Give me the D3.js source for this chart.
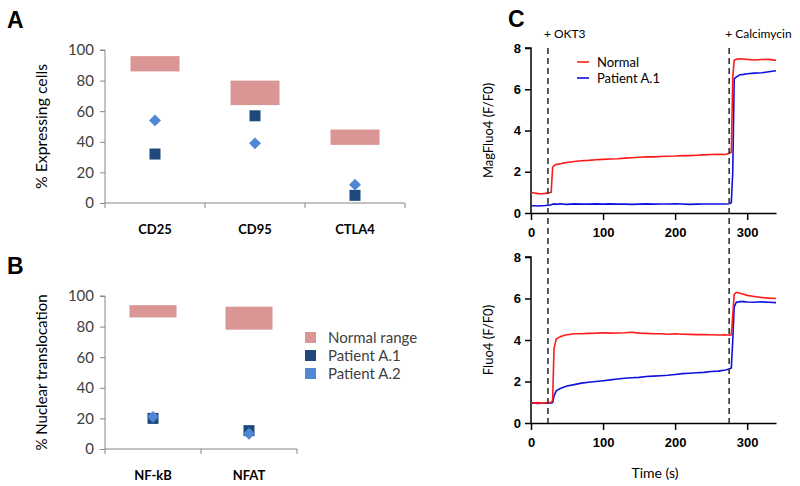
<!DOCTYPE html>
<html><head><meta charset="utf-8">
<script src="https://cdn.jsdelivr.net/npm/d3@7"></script>
<style>body{margin:0;background:#fff}svg{display:block}</style>
</head><body>
<svg id="c" width="800" height="486"></svg>
<script>
// ---------- Panel A data ----------
const catsA = ["CD25", "CD95", "CTLA4"];
const normalLowA = [86, 64, 38];
const normalHighA = [96, 80, 48];
const patientA1_A = [32, 57, 5];
const patientA2_A = [54, 39, 12];
// ---------- Panel B data ----------
const catsB = ["NF-kB", "NFAT"];
const normalLowB = [86, 78];
const normalHighB = [94, 93];
const patientA1_B = [20, 12];
const patientA2_B = [21, 10];
const yTicksAB = [0, 20, 40, 60, 80, 100];
const legendLabels = ["Normal range", "Patient A.1", "Patient A.2"];
// ---------- Panel C data ----------
const time = [0,5,10,15,20,25,28,30,32,35,40,45,50,60,70,80,90,100,110,120,130,140,150,160,170,180,190,200,210,220,230,240,250,260,270,275,278,280,282,285,290,295,300,310,320,330,340];
const magNormal = [1.0,0.97,0.94,0.93,0.95,0.98,1.0,2.2,2.3,2.35,2.38,2.42,2.45,2.5,2.53,2.55,2.58,2.6,2.62,2.63,2.66,2.68,2.7,2.72,2.72,2.74,2.75,2.76,2.78,2.78,2.8,2.82,2.84,2.85,2.84,2.9,2.95,6.6,7.4,7.45,7.48,7.47,7.45,7.42,7.44,7.45,7.4];
const magPatient = [0.35,0.35,0.34,0.35,0.36,0.38,0.4,0.42,0.44,0.42,0.45,0.43,0.42,0.44,0.43,0.43,0.44,0.43,0.44,0.43,0.43,0.42,0.43,0.44,0.43,0.44,0.44,0.45,0.44,0.42,0.43,0.44,0.44,0.44,0.44,0.45,0.5,2.0,6.5,6.6,6.7,6.72,6.75,6.78,6.8,6.85,6.9];
const fluoNormal = [0.98,0.97,0.98,0.96,0.97,0.98,0.98,1.1,3.6,4.05,4.15,4.22,4.25,4.3,4.3,4.32,4.33,4.35,4.33,4.34,4.35,4.37,4.33,4.32,4.3,4.3,4.28,4.3,4.28,4.27,4.26,4.26,4.25,4.24,4.25,4.23,4.25,5.2,6.2,6.3,6.25,6.2,6.15,6.1,6.05,6.02,6.0];
const fluoPatient = [0.95,0.95,0.94,0.95,0.96,0.95,0.96,0.98,1.3,1.55,1.65,1.72,1.78,1.85,1.92,1.96,2.0,2.04,2.08,2.12,2.16,2.18,2.2,2.24,2.26,2.28,2.3,2.34,2.38,2.4,2.42,2.44,2.48,2.5,2.55,2.6,2.65,4.0,5.6,5.82,5.85,5.85,5.83,5.82,5.84,5.82,5.8];
const timeTicks = [0, 100, 200, 300];
const fTicks = [0, 2, 4, 6, 8];
const stimTimes = [23.5, 275];
const stimLabels = ["+ OKT3", "+ Calcimycin"];
const lineLabels = ["Normal", "Patient A.1"];

const svg = d3.select("#c");
const pink = "#da9694", navy = "#1f497d", lblue = "#4f87d6";
const gray = "#868686", txt = "#404040";
const fontC = "Lato, 'Open Sans', sans-serif";

function panelLetter(t, x, y) {
  svg.append("text").attr("x", x).attr("y", y).text(t)
    .attr("font-family", "Liberation Sans, Arial, sans-serif").attr("font-weight", "bold").attr("font-size", 23).attr("fill", "#000");
}
panelLetter("A", 7, 28);
panelLetter("B", 7, 274);
panelLetter("C", 508, 27);

function catPanel(cats, lo, hi, p1, p2, x0, x1, yTop, yBot, ylabel, labLen) {
  const g = svg.append("g");
  const x = d3.scaleBand().domain(cats).range([x0, x1]);
  const y = d3.scaleLinear().domain([0, 100]).range([yBot, yTop]);
  const ya = g.append("g").attr("transform", `translate(${x0},0)`)
    .call(d3.axisLeft(y).tickValues(yTicksAB).tickSize(5).tickPadding(6));
  ya.select(".domain").attr("stroke", gray).attr("d", `M-5,${yTop}H0V${yBot}`);
  ya.selectAll(".tick line").attr("stroke", gray);
  ya.selectAll(".tick text").attr("fill", txt).attr("font-size", 15).attr("font-family", fontC);
  const xa = g.append("g").attr("transform", `translate(0,${yBot})`);
  xa.append("line").attr("x1", x0).attr("x2", x1).attr("stroke", gray);
  const edges = cats.map(c => x(c)).concat([x1]);
  xa.selectAll("line.t").data(edges).join("line").attr("class", "t")
    .attr("x1", d => d).attr("x2", d => d).attr("y1", 0).attr("y2", 5).attr("stroke", gray);
  xa.selectAll("text").data(cats).join("text")
    .attr("x", d => x(d) + x.bandwidth() / 2).attr("y", 31)
    .attr("text-anchor", "middle").attr("font-weight", "bold").attr("font-size", 13)
    .attr("font-family", fontC).attr("fill", "#000").text(d => d);
  const bw = x.bandwidth() * 0.49;
  g.selectAll("rect.nr").data(cats).join("rect").attr("class", "nr")
    .attr("x", d => x(d) + x.bandwidth() / 2 - bw / 2).attr("width", bw)
    .attr("y", (d, i) => y(hi[i])).attr("height", (d, i) => y(lo[i]) - y(hi[i]))
    .attr("fill", pink);
  g.selectAll("rect.p1").data(cats).join("rect").attr("class", "p1")
    .attr("x", d => x(d) + x.bandwidth() / 2 - 5.5).attr("width", 11)
    .attr("y", (d, i) => y(p1[i]) - 5.5).attr("height", 11).attr("fill", navy);
  const dia = d3.symbol().type(d3.symbolDiamond2).size(90);
  g.selectAll("path.p2").data(cats).join("path").attr("class", "p2")
    .attr("transform", (d, i) => `translate(${x(d) + x.bandwidth() / 2},${y(p2[i])})`)
    .attr("d", dia).attr("fill", lblue);
  g.append("text").attr("transform", `translate(${x0 - 58},${(yTop + yBot) / 2}) rotate(-90)`)
    .attr("text-anchor", "middle").attr("font-size", 15).attr("font-family", fontC).attr("fill", "#000")
    .attr("textLength", labLen).attr("lengthAdjust", "spacingAndGlyphs")
    .text(ylabel);
}
catPanel(catsA, normalLowA, normalHighA, patientA1_A, patientA2_A, 105, 405, 50, 203, "% Expressing cells", 125);
catPanel(catsB, normalLowB, normalHighB, patientA1_B, patientA2_B, 105, 297, 296, 449, "% Nuclear translocation", 156);

const legColors = [pink, navy, lblue];
const lg = svg.append("g").attr("transform", "translate(305,332)");
legendLabels.forEach((l, i) => {
  lg.append("rect").attr("x", 0).attr("y", i * 18).attr("width", 11).attr("height", 11).attr("fill", legColors[i]);
  lg.append("text").attr("x", 23).attr("y", i * 18 + 11).attr("font-size", 15).attr("font-family", fontC)
    .attr("fill", txt).text(l);
});

// ---------- Panel C ----------
const xC = d3.scaleLinear().domain([0, 340]).range([531, 776]);
function tracePanel(yTop, yBot, s1, s2, ylabel, showLegend) {
  const g = svg.append("g");
  const y = d3.scaleLinear().domain([0, 8]).range([yBot, yTop]);
  const ya = g.append("g").attr("transform", `translate(531,0)`)
    .call(d3.axisLeft(y).tickValues(fTicks).tickSize(6).tickPadding(4));
  ya.select(".domain").attr("stroke", "#000").attr("stroke-width", 1.5).attr("d", `M-6,${yTop}H0V${yBot}`);
  ya.selectAll(".tick line").attr("stroke", "#000").attr("stroke-width", 1.5);
  ya.selectAll(".tick text").attr("fill", "#000").attr("font-size", 13).attr("font-weight", "bold")
    .attr("font-family", "Liberation Sans, Arial, sans-serif");
  const xa = g.append("g").attr("transform", `translate(0,${yBot})`)
    .call(d3.axisBottom(xC).tickValues(timeTicks).tickSize(7).tickSizeOuter(0).tickPadding(8));
  xa.select(".domain").attr("stroke", "#000").attr("stroke-width", 1.5);
  xa.selectAll(".tick line").attr("stroke", "#000").attr("stroke-width", 1.5);
  xa.selectAll(".tick text").attr("fill", "#000").attr("font-size", 13).attr("font-weight", "bold")
    .attr("font-family", "Liberation Sans, Arial, sans-serif");
  const line = d3.line().x((d, i) => xC(time[i])).y(d => y(d));
  g.append("path").datum(s2).attr("d", line).attr("fill", "none").attr("stroke", "#1010e0").attr("stroke-width", 1.6);
  g.append("path").datum(s1).attr("d", line).attr("fill", "none").attr("stroke", "#ff1a1a").attr("stroke-width", 1.6);
  g.append("text").attr("transform", `translate(493,${(yTop + yBot) / 2}) rotate(-90)`)
    .attr("text-anchor", "middle").attr("font-size", 13).attr("font-family", fontC).attr("fill", "#000").text(ylabel);
  if (showLegend) {
    const cols = ["#ff1a1a", "#1010e0"];
    lineLabels.forEach((l, i) => {
      g.append("line").attr("x1", 577).attr("x2", 589).attr("y1", 62 + i * 16).attr("y2", 62 + i * 16)
        .attr("stroke", cols[i]).attr("stroke-width", 1.6);
      g.append("text").attr("x", 597).attr("y", 67 + i * 16).attr("font-size", 13).attr("font-family", fontC)
        .attr("fill", "#000").text(l);
    });
  }
}
tracePanel(48, 213, magNormal, magPatient, "MagFluo4 (F/F0)", true);
tracePanel(257, 423, fluoNormal, fluoPatient, "Fluo4 (F/F0)", false);
svg.append("text").attr("x", 655).attr("y", 478).attr("text-anchor", "middle").attr("font-size", 14)
  .attr("font-family", fontC).attr("fill", "#000").text("Time (s)");
stimTimes.forEach((t, i) => {
  svg.append("line").attr("x1", xC(t)).attr("x2", xC(t)).attr("y1", 48).attr("y2", 423)
    .attr("stroke", "#333").attr("stroke-width", 1.6).attr("stroke-dasharray", "6,4");
  svg.append("text").attr("x", xC(t) - 4).attr("y", 38).attr("font-size", 12).attr("font-family", fontC)
    .attr("fill", "#000").text(stimLabels[i]);
});
</script>
</body></html>
